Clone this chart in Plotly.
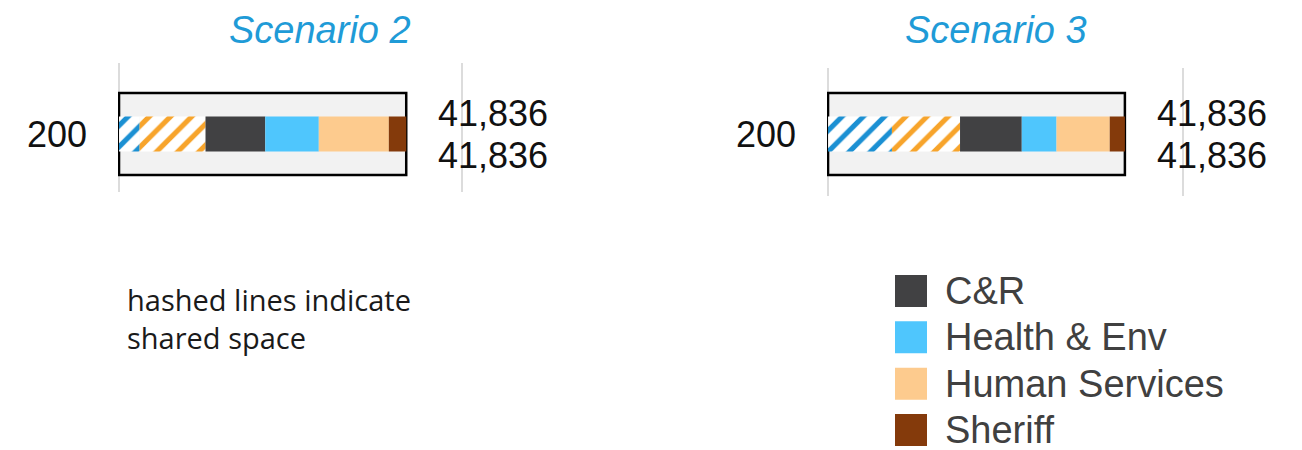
import numpy as np
import plotly.graph_objects as go

W, H = 1302, 450

# ---- data -------------------------------------------------------------
floor = ["200"]
scenarios = ["Scenario 2", "Scenario 3"]
floor_total = [41836, 41836]

departments = ["C&R", "Health & Env", "Human Services", "Sheriff"]
dept_colors = ["#414143", "#4fc6fd", "#fdcb8e", "#843a0b"]

shared_names = ["Health & Env (shared)", "Human Services (shared)"]
shared_colors = ["#1b90d3", "#f7a42b"]

shared_sf_s2 = [3000, 9600]
dept_sf_s2 = [8700, 7800, 10200, 2536]
shared_sf_s3 = [9000, 9600]
dept_sf_s3 = [8700, 4900, 7500, 2136]

shared_sf = [shared_sf_s2, shared_sf_s3]
dept_sf = [dept_sf_s2, dept_sf_s3]

# ---- layout helpers (pixel positions on the 1302x450 page) -------------
FONT = "Arial, Liberation Sans, sans-serif"
panels = [
    dict(x0=118, x1=476, top=63, bottom=192, title_x=320),
    dict(x0=827, x1=1197, top=68, bottom=196, title_x=996),
]
X_RANGE = [-150, 52000]
BAR_CENTER = 134
UNIT = 129.0           # pixels per category unit
BOX_W = 82 / UNIT
INNER_W = 35 / UNIT


def fx(p):
    return p / W


def fy(p):
    return 1 - p / H


fig = go.Figure()
annotations = []

for i, name in enumerate(scenarios):
    sfx = "" if i == 0 else str(i + 1)
    xa, ya = "x" + sfx, "y" + sfx

    # outline box: the floor's total space
    fig.add_trace(go.Bar(
        y=floor, x=[floor_total[i]], base=[0], width=[BOX_W], orientation="h",
        marker=dict(color="#f2f2f2", line=dict(color="#000000", width=2.5)),
        xaxis=xa, yaxis=ya, showlegend=False, hoverinfo="x",
    ))

    # shared (hatched) then dedicated segments, stacked from the left
    seg_vals = list(shared_sf[i]) + list(dept_sf[i])
    seg_names = shared_names + departments
    bases = np.concatenate([[0], np.cumsum(seg_vals)[:-1]])
    for k, (v, b, nm) in enumerate(zip(seg_vals, bases, seg_names)):
        if k < len(shared_names):
            marker = dict(
                color="white",
                pattern=dict(shape="/", fgcolor=shared_colors[k], bgcolor="white",
                             size=15, solidity=0.34, fillmode="replace"),
                line=dict(width=0),
            )
        else:
            marker = dict(color=dept_colors[k - len(shared_names)], line=dict(width=0))
        fig.add_trace(go.Bar(
            y=floor, x=[v], base=[float(b)], width=[INNER_W], orientation="h",
            marker=marker, name=nm, xaxis=xa, yaxis=ya, showlegend=False,
        ))

    p = panels[i]
    hi = (BAR_CENTER - p["top"]) / UNIT
    lo = -(p["bottom"] - BAR_CENTER) / UNIT
    fig.update_layout(**{
        "xaxis" + sfx: dict(
            domain=[fx(p["x0"]), fx(p["x1"])], range=X_RANGE, anchor=ya,
            tick0=0, dtick=50000, showgrid=True, gridcolor="#dcdcdc", gridwidth=2,
            zeroline=False, showticklabels=False, ticks="", showline=False,
            fixedrange=True,
        ),
        "yaxis" + sfx: dict(
            domain=[fy(p["bottom"]), fy(p["top"])], anchor=xa, type="category",
            categoryarray=floor, range=[lo, hi], showgrid=False, zeroline=False,
            ticks="", ticklabelstandoff=30, showline=False,
            tickfont=dict(family=FONT, size=36, color="#111111"), fixedrange=True,
        ),
    })

    # value labels to the right of the box (y is the category index)
    allocated = int(sum(seg_vals))
    for val, shift in [(allocated, 21), (floor_total[i], -21)]:
        annotations.append(dict(
            xref=xa, yref=ya, x=floor_total[i], y=0, xanchor="left",
            yanchor="middle", xshift=30, yshift=shift, showarrow=False,
            text=f"{val:,}", font=dict(family=FONT, size=36, color="#111111"),
        ))

    # panel title
    annotations.append(dict(
        xref="paper", yref="paper", x=fx(p["title_x"]), y=fy(30),
        xanchor="center", yanchor="middle", showarrow=False,
        text=f"<i>{name}</i>", font=dict(family=FONT, size=38, color="#1f9bd7"),
    ))

# ---- legend drawn on its own axes --------------------------------------
ROW = 46.33
leg_idx = np.arange(len(departments))
fig.add_trace(go.Scatter(
    x=np.zeros(len(departments)), y=leg_idx, mode="markers",
    marker=dict(symbol="square", size=32, color=dept_colors, line=dict(width=0)),
    xaxis="x3", yaxis="y3", showlegend=False, hoverinfo="skip",
))
for j, d in enumerate(departments):
    annotations.append(dict(
        xref="x3", yref="y3", x=0, y=j, xanchor="left", yanchor="middle",
        xshift=32, showarrow=False, text=d,
        font=dict(family=FONT, size=38, color="#404040"),
    ))
fig.update_layout(
    xaxis3=dict(domain=[fx(880), 1.0], range=[-31, 391], visible=False,
                anchor="y3", fixedrange=True),
    yaxis3=dict(domain=[0.0, fy(262)], range=[(H - 291) / ROW, (262 - 291) / ROW],
                visible=False, anchor="x3", fixedrange=True),
)

# note about hatching
annotations.append(dict(
    xref="paper", yref="paper", x=fx(125), y=fy(318), xanchor="left",
    yanchor="middle", align="left", showarrow=False,
    text="hashed lines indicate<br>shared space",
    font=dict(family="Open Sans, sans-serif", size=29, color="#1a1a1a"),
))

fig.update_layout(
    width=W, height=H, margin=dict(l=0, r=0, t=0, b=0),
    barmode="overlay", paper_bgcolor="white", plot_bgcolor="white",
    showlegend=False, annotations=annotations,
)

fig.write_html("out.html")
